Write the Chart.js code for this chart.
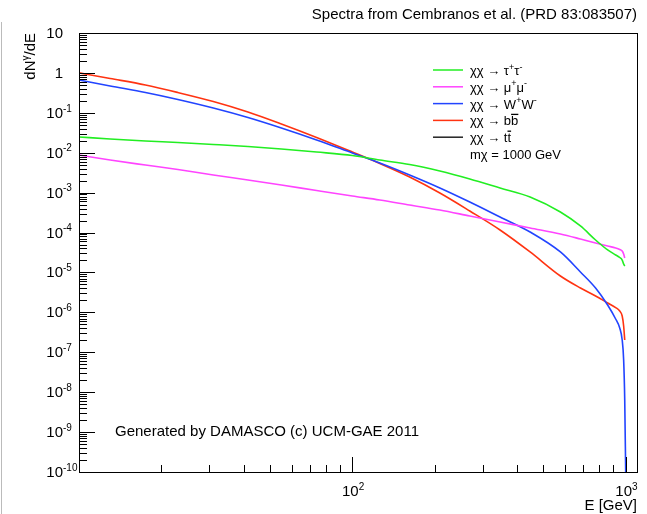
<!DOCTYPE html>
<html>
<head>
<meta charset="utf-8">
<title>Spectra from Cembranos et al.</title>
<script src="https://cdn.jsdelivr.net/npm/chart.js@4/dist/chart.umd.min.js"></script>
<style>
  html, body { margin: 0; padding: 0; background: #fff; }
  #wrap { width: 647px; height: 514px; position: relative; }
</style>
</head>
<body>
<div id="wrap"><canvas id="spectra" width="647" height="514"></canvas></div>
<script>
// Photon energy grid (GeV)
const energies = [10, 13, 17.5, 23, 31, 41.5, 55, 74, 100, 126, 162, 209, 269, 347, 447, 577, 683, 776, 859, 919, 951, 971, 983, 992, 1000];

// dN/dE per channel (null = curve ended)
const tauVals = [0.0248, 0.0221, 0.0197, 0.0180, 0.0161, 0.0143, 0.0124, 0.0104, 8.51e-3, 6.57e-3, 5.07e-3, 3.48e-3, 2.20e-3, 1.31e-3, 7.78e-4, 3.27e-4, 1.46e-4, 6.50e-5, 3.66e-5, 2.74e-5, 2.37e-5, 2.05e-5, 1.63e-5, 1.45e-5, null];
const muVals  = [8.77e-3, 6.57e-3, 4.92e-3, 3.80e-3, 2.77e-3, 2.07e-3, 1.55e-3, 1.13e-3, 8.24e-4, 6.53e-4, 4.90e-4, 3.67e-4, 2.60e-4, 1.84e-4, 1.30e-4, 9.20e-5, 6.89e-5, 5.47e-5, 4.60e-5, 4.10e-5, 3.76e-5, 3.45e-5, 2.90e-5, 2.30e-5, null];
const wwVals  = [0.664, 0.470, 0.323, 0.216, 0.132, 0.0764, 0.0417, 0.0209, 9.85e-3, 5.53e-3, 2.77e-3, 1.31e-3, 5.82e-4, 2.45e-4, 1.03e-4, 3.26e-5, 1.03e-5, 4.08e-6, 1.53e-6, 6.82e-7, 4.06e-7, 2.03e-7, 6.41e-8, 6.37e-9, 1e-10];
const bbVals  = [1.0, 0.724, 0.498, 0.323, 0.192, 0.105, 0.0525, 0.0241, 0.0104, 5.37e-3, 2.46e-3, 9.80e-4, 3.47e-4, 1.16e-4, 3.26e-5, 8.15e-6, 4.08e-6, 2.57e-6, 1.72e-6, 1.32e-6, 1.08e-6, 8.11e-7, 4.55e-7, 2.03e-7, null];
const ttVals  = []; // t-tbar channel is in the legend but not drawn

const seriesColors = ['#22ee22', '#ff44ff', '#2244ff', '#ff3311', '#222222'];

// axis ticks
const yDecades = [1, 0, -1, -2, -3, -4, -5, -6, -7, -8, -9, -10];
const xDecades = [2, 3];

const FONT = '"Liberation Sans", Arial, Helvetica, sans-serif';

function toPoints(vals) {
    const pts = [];
    vals.forEach((v, i) => { if (v != null) pts.push({ x: energies[i], y: v }); });
    return pts;
}

// draws base text with superscript pieces: parts = [[text, isSup], ...]
function drawParts(ctx, parts, x, y, size, align) {
    let total = 0;
    const widths = parts.map(p => {
        ctx.font = (p[1] ? Math.round(size * 0.68) : size) + 'px ' + FONT;
        const w = ctx.measureText(p[0]).width;
        total += w;
        return w;
    });
    let cx = align === 'right' ? x - total : x;
    ctx.textAlign = 'left';
    ctx.textBaseline = 'alphabetic';
    parts.forEach((p, i) => {
        ctx.font = (p[1] ? Math.round(size * 0.68) : size) + 'px ' + FONT;
        ctx.fillText(p[0], cx, p[1] ? y - size * 0.42 : y);
        cx += widths[i];
    });
    return cx;
}

const rootStyle = {
    id: 'rootStyle',
    afterDraw(chart) {
        const ctx = chart.ctx;
        const a = chart.chartArea;
        const xs = chart.scales.x, ys = chart.scales.y;
        ctx.save();
        ctx.fillStyle = '#000';
        ctx.strokeStyle = '#000';
        ctx.lineWidth = 1;

        // frame
        ctx.strokeRect(Math.round(a.left) + 0.5, Math.round(a.top) + 0.5, Math.round(a.right - a.left), Math.round(a.bottom - a.top));

        // y ticks
        ctx.beginPath();
        yDecades.forEach(k => {
            const py = Math.round(ys.getPixelForValue(Math.pow(10, k))) + 0.5;
            ctx.moveTo(a.left, py); ctx.lineTo(a.left + 16, py);
            if (k < 1) {
                for (let m = 2; m <= 9; m++) {
                    const my = Math.round(ys.getPixelForValue(m * Math.pow(10, k))) + 0.5;
                    ctx.moveTo(a.left, my); ctx.lineTo(a.left + 8, my);
                }
            }
        });
        // x ticks
        [1, 2].forEach(k => {
            const px = Math.round(xs.getPixelForValue(Math.pow(10, k))) + 0.5;
            if (k > 1) { ctx.moveTo(px, a.bottom); ctx.lineTo(px, a.bottom - 15); }
            for (let m = 2; m <= 9; m++) {
                const v = m * Math.pow(10, k);
                if (v > xs.max) break;
                const mx = Math.round(xs.getPixelForValue(v)) + 0.5;
                ctx.moveTo(mx, a.bottom); ctx.lineTo(mx, a.bottom - 7);
            }
        });
        const p3 = Math.round(xs.getPixelForValue(1000)) + 0.5;
        ctx.moveTo(p3, a.bottom); ctx.lineTo(p3, a.bottom - 15);
        ctx.stroke();

        // y tick labels
        yDecades.forEach(k => {
            const py = ys.getPixelForValue(Math.pow(10, k)) + 5;
            if (k === 1) drawParts(ctx, [['10', 0]], 63, py, 15, 'right');
            else if (k === 0) drawParts(ctx, [['1', 0]], 63, py, 15, 'right');
            else {
                drawParts(ctx, [['10', 0]], 63, py, 15, 'right');
                drawParts(ctx, [[String(k), 1]], 63, py, 15, 'left');
            }
        });
        // x tick labels
        xDecades.forEach(k => {
            const px = xs.getPixelForValue(Math.pow(10, k));
            ctx.font = '15px ' + FONT;
            const w = ctx.measureText('10').width;
            drawParts(ctx, [['10', 0], [String(k), 1]], px - w / 2 - 2, 496, 15, 'left');
        });

        // axis titles
        ctx.font = '15px ' + FONT;
        ctx.textAlign = 'right';
        ctx.fillText('E [GeV]', a.right, 510);

        ctx.save();
        ctx.translate(35, 33);
        ctx.rotate(-Math.PI / 2);
        drawParts(ctx, [['dN', 0], ['γ', 1], ['/dE', 0]], 0, 0, 15, 'right');
        ctx.restore();

        // title
        ctx.font = '15px ' + FONT;
        ctx.textAlign = 'right';
        ctx.fillText('Spectra from Cembranos et al. (PRD 83:083507)', a.right, 19);

        // generator note
        ctx.font = '15px ' + FONT;
        ctx.textAlign = 'left';
        ctx.fillText('Generated by DAMASCO (c) UCM-GAE 2011', 115, 436);

        // legend
        const rows = [
            [['χχ → τ', 0], ['+', 1], ['τ', 0], ['-', 1]],
            [['χχ → μ', 0], ['+', 1], ['μ', 0], ['-', 1]],
            [['χχ → W', 0], ['+', 1], ['W', 0], ['-', 1]],
            [['χχ → bb', 0]],
            [['χχ → tt', 0]]
        ];
        rows.forEach((parts, i) => {
            const y = 70 + i * 16.8;
            ctx.strokeStyle = seriesColors[i];
            ctx.lineWidth = 1.5;
            ctx.beginPath(); ctx.moveTo(433, y); ctx.lineTo(463, y); ctx.stroke();
            ctx.fillStyle = '#000';
            const end = drawParts(ctx, parts, 470, y + 5, 13, 'left');
            if (i >= 3) {
                ctx.font = '13px ' + FONT;
                const w = ctx.measureText(i === 3 ? 'b' : 't').width;
                ctx.strokeStyle = '#000';
                ctx.lineWidth = 1.3;
                ctx.beginPath(); ctx.moveTo(end - w, y - 6); ctx.lineTo(end, y - 6); ctx.stroke();
            }
        });
        ctx.fillStyle = '#000';
        ctx.font = '13px ' + FONT;
        ctx.textAlign = 'left';
        ctx.fillText('mχ = 1000 GeV', 470, 159);

        // page edge line at far left
        ctx.strokeStyle = '#bbbbbb';
        ctx.lineWidth = 1;
        ctx.beginPath(); ctx.moveTo(1.5, 22); ctx.lineTo(1.5, 514); ctx.stroke();
        ctx.restore();
    }
};

const labels = ['χχ → τ⁺τ⁻', 'χχ → μ⁺μ⁻', 'χχ → W⁺W⁻', 'χχ → bb̄', 'χχ → tt̄'];
const allVals = [tauVals, muVals, wwVals, bbVals, ttVals];

new Chart(document.getElementById('spectra'), {
    type: 'line',
    data: {
        datasets: allVals.map((vals, i) => ({
            label: labels[i],
            data: toPoints(vals),
            borderColor: seriesColors[i],
            borderWidth: 1.6,
            pointRadius: 0,
            fill: false,
            cubicInterpolationMode: 'monotone'
        }))
    },
    options: {
        responsive: false,
        animation: false,
        layout: { padding: { left: 79, top: 33, right: 10, bottom: 42 } },
        plugins: { legend: { display: false }, tooltip: { enabled: false } },
        scales: {
            x: { type: 'logarithmic', min: 10, max: 1100, display: false },
            y: { type: 'logarithmic', min: 1e-10, max: 10, display: false }
        }
    },
    plugins: [rootStyle]
});
</script>
</body>
</html>
